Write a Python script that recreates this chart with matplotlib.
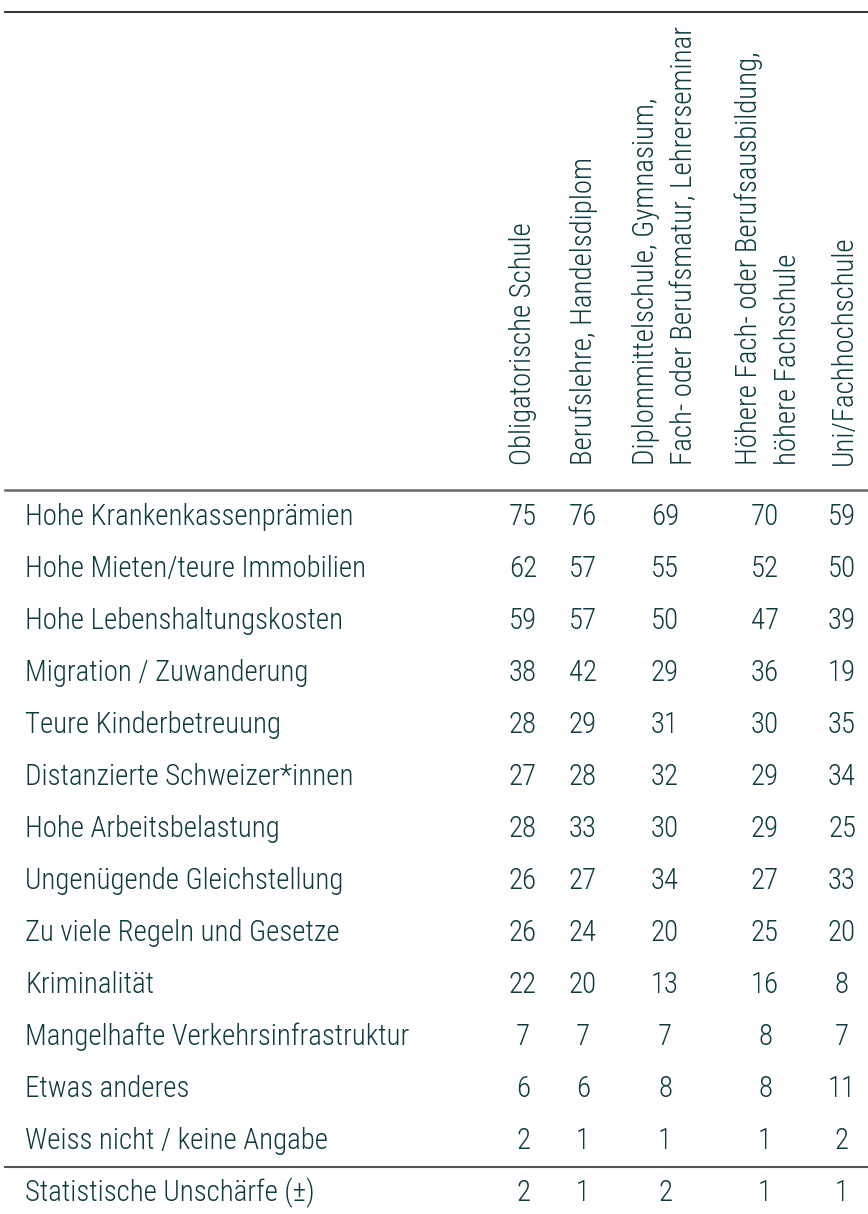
import matplotlib
matplotlib.use("Agg")
import matplotlib.pyplot as plt

columns = [
    "Obligatorische Schule",
    "Berufslehre, Handelsdiplom",
    "Diplommittelschule, Gymnasium,\nFach- oder Berufsmatur, Lehrerseminar",
    "Höhere Fach- oder Berufsausbildung,\nhöhere Fachschule",
    "Uni/Fachhochschule",
]
rows = [
    "Hohe Krankenkassenprämien",
    "Hohe Mieten/teure Immobilien",
    "Hohe Lebenshaltungskosten",
    "Migration / Zuwanderung",
    "Teure Kinderbetreuung",
    "Distanzierte Schweizer*innen",
    "Hohe Arbeitsbelastung",
    "Ungenügende Gleichstellung",
    "Zu viele Regeln und Gesetze",
    "Kriminalität",
    "Mangelhafte Verkehrsinfrastruktur",
    "Etwas anderes",
    "Weiss nicht / keine Angabe",
]
obligatorisch = [75, 62, 59, 38, 28, 27, 28, 26, 26, 22, 7, 6, 2]
berufslehre = [76, 57, 57, 42, 29, 28, 33, 27, 24, 20, 7, 6, 1]
diplommittel = [69, 55, 50, 29, 31, 32, 30, 34, 20, 13, 7, 8, 1]
hoehere_fach = [70, 52, 47, 36, 30, 29, 29, 27, 25, 16, 8, 8, 1]
uni = [59, 50, 39, 19, 35, 34, 25, 33, 20, 8, 7, 11, 2]
footer_label = "Statistische Unschärfe (±)"
footer_values = [2, 1, 2, 1, 1]

series = [obligatorisch, berufslehre, diplommittel, hoehere_fach, uni]

W, H = 868, 1214
fig = plt.figure(figsize=(W / 100, H / 100), dpi=100)
ax = fig.add_axes([0, 0, 1, 1])
ax.set_xlim(0, W)
ax.set_ylim(H, 0)
ax.axis("off")

color = "#0e3b40"
font = dict(family=["Roboto Condensed", "Roboto", "DejaVu Sans"],
            fontweight="light", color=color)
fs = 20.8

col_x = [523, 583, 665, 765, 842]
header_x = [523, 584, 665, 768, 844]
label_x = 25
row0 = 517
dy = 52

# lines
ax.plot([5, W], [12, 12], color="#222222", lw=1.3)
ax.plot([5, W], [490, 490], color="#666666", lw=1.8)
line_bottom = row0 + len(rows) * dy - dy / 2
ax.plot([5, W], [line_bottom, line_bottom], color="#555555", lw=1.5)

# headers
for x, c in zip(header_x, columns):
    ax.text(x, 465, c, rotation=90, ha="center", va="bottom",
            multialignment="left", fontsize=fs, linespacing=1.5, **font)

# body
for i, r in enumerate(rows):
    y = row0 + i * dy
    ax.text(label_x, y, r, ha="left", va="center", fontsize=fs, **font)
    for x, s in zip(col_x, series):
        ax.text(x, y, str(s[i]), ha="center", va="center", fontsize=fs, **font)

yf = line_bottom + 26
ax.text(label_x, yf, footer_label, ha="left", va="center", fontsize=fs, **font)
for x, v in zip(col_x, footer_values):
    ax.text(x, yf, str(v), ha="center", va="center", fontsize=fs, **font)

fig.savefig("out.png", dpi=100)
